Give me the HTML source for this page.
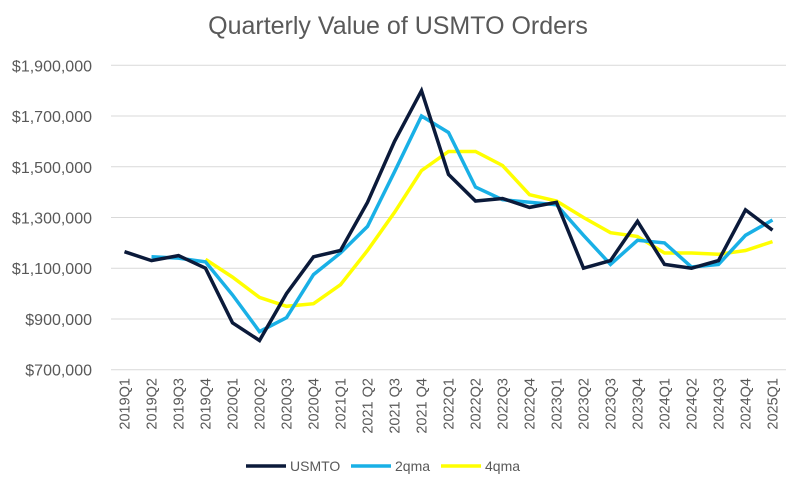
<!DOCTYPE html>
<html><head><meta charset="utf-8"><style>
body{margin:0;background:#fff;font-family:"Liberation Sans",sans-serif;}
svg text{font-family:"Liberation Sans",sans-serif;fill:#595959;}
</style></head><body>
<svg id="chart" width="800" height="496" xmlns="http://www.w3.org/2000/svg">
<text x="398" y="34" font-size="25" text-anchor="middle">Quarterly Value of USMTO Orders</text>
<g id="grid"></g><g id="yt"></g><g id="xt"></g><g id="lines"></g>
<g id="legend"></g>
</svg>
<script>
const categories=["2019Q1","2019Q2","2019Q3","2019Q4","2020Q1","2020Q2","2020Q3","2020Q4","2021Q1","2021 Q2","2021 Q3","2021 Q4","2022Q1","2022Q2","2022Q3","2022Q4","2023Q1","2023Q2","2023Q3","2023Q4","2024Q1","2024Q2","2024Q3","2024Q4","2025Q1"];
const usmto=[1165000,1130000,1150000,1100000,885000,815000,1000000,1145000,1170000,1360000,1600000,1800000,1470000,1365000,1375000,1340000,1360000,1100000,1130000,1285000,1115000,1100000,1130000,1330000,1250000];
const qma2=[null,1145000,1140000,1125000,995000,850000,905000,1075000,1160000,1265000,1480000,1700000,1635000,1420000,1370000,1360000,1350000,1230000,1115000,1210000,1200000,1105000,1115000,1230000,1290000];
const qma4=[null,null,null,1135000,1065000,985000,950000,960000,1035000,1170000,1320000,1485000,1560000,1560000,1505000,1390000,1365000,1300000,1240000,1225000,1160000,1160000,1155000,1170000,1205000];
const yTicks=[700000,900000,1100000,1300000,1500000,1700000,1900000];
const L=111,R=786,T=65.3,B=369.7,ymin=700000,ymax=1900000;
const xs=i=>L+(R-L)/categories.length*(i+0.5);
const ys=v=>B-(v-ymin)/(ymax-ymin)*(B-T);
const NS="http://www.w3.org/2000/svg";
function mk(p,tag,at){const e=document.createElementNS(NS,tag);for(const k in at)e.setAttribute(k,at[k]);p.appendChild(e);return e;}
const g=document.getElementById('grid'),yt=document.getElementById('yt'),xt=document.getElementById('xt'),ln=document.getElementById('lines'),lg=document.getElementById('legend');
yTicks.forEach(v=>{
 const l=mk(g,'line',{x1:L,x2:R,y1:ys(v),y2:ys(v),stroke:'#d9d9d9','stroke-width':1});
 
 
 const t=mk(yt,'text',{x:92,y:ys(v)+6,'font-size':16,'text-anchor':'end'});
 
 
 t.textContent='$'+v.toLocaleString('en-US');
});
categories.forEach((c,i)=>{
 const t=mk(xt,'text',{transform:`translate(${xs(i)+5},378) rotate(-90)`,'font-size':14.5,'text-anchor':'end'});
 
 
 t.textContent=c;
});
const series=[["usmto",usmto,"#0b1a3a","USMTO"],["2qma",qma2,"#19b0e6","2qma"],["4qma",qma4,"#ffff00","4qma"]];
series.slice().reverse().forEach(([n,d,col])=>{
 let p='';d.forEach((v,i)=>{if(v!=null)p+=(p?'L':'M')+xs(i).toFixed(1)+','+ys(v).toFixed(1);});
 const e=mk(ln,'path',{d:p,fill:'none',stroke:col,'stroke-width':3.5,'stroke-linejoin':'miter'});
 
 
});
const lx=[246,351,441];
series.forEach(([n,d,col,lab],i)=>{
 const e=mk(lg,'line',{x1:lx[i],x2:lx[i]+40,y1:466,y2:466,stroke:col,'stroke-width':3.5});
 
 
 const t=mk(lg,'text',{x:lx[i]+44,y:471,'font-size':14});
 
 
 t.textContent=lab;
});
</script>
</body></html>
